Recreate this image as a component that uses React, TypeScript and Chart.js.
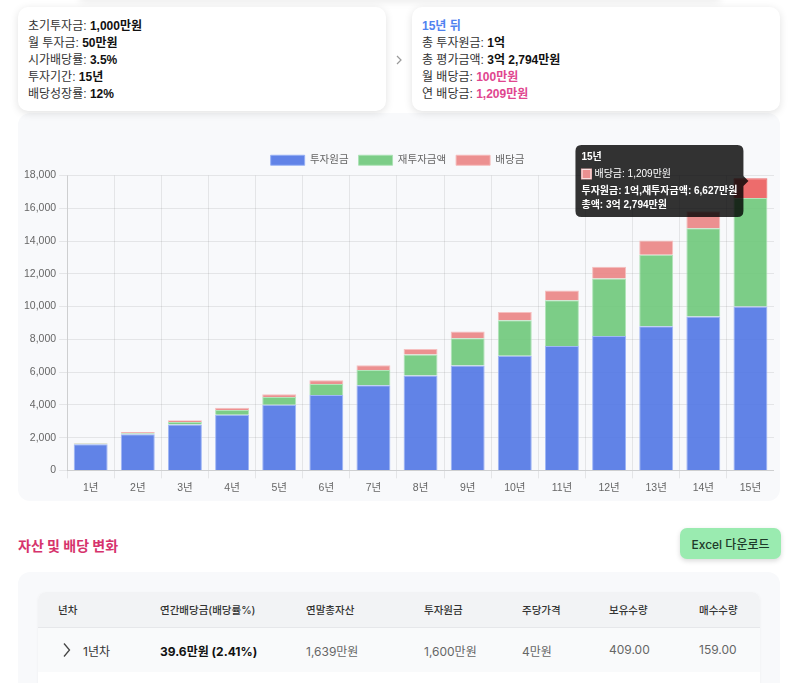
import React, { useEffect, useRef } from "react";
import { Chart, registerables } from "chart.js";

Chart.register(...registerables);

const years = ["1년", "2년", "3년", "4년", "5년", "6년", "7년", "8년", "9년", "10년", "11년", "12년", "13년", "14년", "15년"];
const principal = [1600, 2200, 2800, 3400, 4000, 4600, 5200, 5800, 6400, 7000, 7600, 8200, 8800, 9400, 10000];
const reinvest = [39, 75, 160, 280, 480, 680, 930, 1280, 1660, 2160, 2790, 3515, 4370, 5380, 6627];
const dividend = [40, 70, 105, 140, 170, 225, 285, 335, 425, 510, 595, 715, 860, 1040, 1209];
const yTicks = [0, 2000, 4000, 6000, 8000, 10000, 12000, 14000, 16000, 18000];
const finalTotal = 32794;

const FONT = "Inter, 'Noto Sans CJK KR', 'Noto Sans', sans-serif";
const CFONT = "'Liberation Sans', Arial, 'Noto Sans CJK KR', sans-serif";

function fmtMan(v: number): string {
  const eok = Math.floor(v / 10000);
  const man = v % 10000;
  if (eok > 0 && man === 0) return `${eok}억`;
  if (eok > 0) return `${eok}억 ${man.toLocaleString()}만원`;
  return `${man.toLocaleString()}만원`;
}

function ChartBox() {
  const ref = useRef<HTMLCanvasElement | null>(null);
  useEffect(() => {
    if (!ref.current) return;
    Chart.defaults.font.family = CFONT;
    const chart = new Chart(ref.current, {
      type: "bar",
      data: {
        labels: years,
        datasets: [
          {
            label: "투자원금",
            data: principal,
            backgroundColor: "rgba(80,118,228,0.9)",
            borderColor: "rgba(150,175,245,0.9)",
            borderWidth: 1,
          },
          {
            label: "재투자금액",
            data: reinvest,
            backgroundColor: "rgba(110,200,122,0.9)",
            borderColor: "rgba(170,225,178,0.9)",
            borderWidth: 1,
          },
          {
            label: "배당금",
            data: dividend,
            backgroundColor: "rgba(234,132,132,0.9)",
            borderColor: "rgba(245,185,185,0.9)",
            hoverBackgroundColor: "rgba(236,100,100,0.95)",
            hoverBorderColor: "rgba(236,100,100,0.95)",
            borderWidth: 1,
          },
        ],
      },
      options: {
        animation: false,
        responsive: true,
        maintainAspectRatio: false,
        plugins: {
          legend: {
            position: "top",
            labels: {
              boxWidth: 34,
              boxHeight: 10,
              font: { size: 10.5, family: CFONT },
              color: "#666",
            },
          },
          tooltip: {
            backgroundColor: "rgba(0,0,0,0.8)",
            yAlign: "center",
            xAlign: "right",
            titleFont: { size: 10, weight: "bold", family: CFONT },
            bodyFont: { size: 10, family: CFONT },
            footerFont: { size: 10, weight: "bold", family: CFONT },
            titleMarginBottom: 5,
            footerMarginTop: 5,
            boxWidth: 10,
            boxHeight: 10,
            boxPadding: 1,
            callbacks: {
              label: (ctx: any) => `${ctx.dataset.label}: ${Number(ctx.raw).toLocaleString()}만원`,
              footer: (items: any[]) => {
                const i = items[0].dataIndex;
                const total = i === years.length - 1 ? finalTotal : principal[i] + reinvest[i] + dividend[i];
                return [
                  `투자원금: ${fmtMan(principal[i])},재투자금액: ${fmtMan(reinvest[i])}`,
                  `총액: ${fmtMan(total)}`,
                ];
              },
            },
          },
        },
        scales: {
          x: {
            stacked: true,
            ticks: { font: { size: 10.5, family: CFONT }, color: "#666" },
            grid: { color: "rgba(0,0,0,0.08)" },
          },
          y: {
            stacked: true,
            min: 0,
            max: yTicks[yTicks.length - 1],
            ticks: {
              stepSize: yTicks[1] - yTicks[0],
              font: { size: 10.5, family: CFONT },
              color: "#666",
              callback: (v: any) => Number(v).toLocaleString(),
            },
            grid: { color: "rgba(0,0,0,0.08)" },
          },
        },
      },
    });
    const act = [{ datasetIndex: 2, index: years.length - 1 }];
    chart.setActiveElements(act);
    chart.tooltip?.setActiveElements(act, { x: 0, y: 0 });
    chart.update();
    return () => chart.destroy();
  }, []);
  return (
    <div style={{ position: "absolute", left: 21, top: 145, width: 753, height: 352 }}>
      <canvas ref={ref} />
    </div>
  );
}

const lbl: React.CSSProperties = { color: "#333" };
const val: React.CSSProperties = { fontWeight: 700, color: "#111" };
const pink: React.CSSProperties = { fontWeight: 700, color: "#e0468f" };

export default function App() {
  const card: React.CSSProperties = {
    position: "absolute",
    top: 7,
    width: 368,
    height: 104,
    background: "#fff",
    borderRadius: 10,
    boxShadow: "0 2px 8px rgba(0,0,0,0.12)",
    boxSizing: "border-box",
    padding: "11px 10px 10px 10px",
    fontSize: 12,
    lineHeight: "17px",
    fontFamily: CFONT,
  };
  const th: React.CSSProperties = { position: "absolute", top: 602, fontSize: 10.5, color: "#333", fontWeight: 500 };
  const td: React.CSSProperties = { position: "absolute", top: 642, fontSize: 12, color: "#666" };
  return (
    <div
      style={{
        position: "absolute",
        left: 0,
        top: 0,
        width: 800,
        height: 683,
        overflow: "hidden",
        background: "#fff",
        fontFamily: FONT,
      }}
    >
      <div style={{ position: "absolute", left: 80, top: -40, width: 640, height: 40, boxShadow: "0 2px 8px rgba(0,0,0,0.08)", background: "#fff" }} />
      <div style={{ position: "absolute", left: 18, top: 113, width: 762, height: 388, background: "#f8f9fb", borderRadius: 12 }} />
      <div style={{ ...card, left: 18 }}>
        <div><span style={lbl}>초기투자금: </span><span style={val}>1,000만원</span></div>
        <div><span style={lbl}>월 투자금: </span><span style={val}>50만원</span></div>
        <div><span style={lbl}>시가배당률: </span><span style={val}>3.5%</span></div>
        <div><span style={lbl}>투자기간: </span><span style={val}>15년</span></div>
        <div><span style={lbl}>배당성장률: </span><span style={val}>12%</span></div>
      </div>
      <svg style={{ position: "absolute", left: 395, top: 55 }} width="8" height="10" viewBox="0 0 8 10">
        <path d="M2 1 L6 5 L2 9" stroke="#999" strokeWidth="1.2" fill="none" />
      </svg>
      <div style={{ ...card, left: 412 }}>
        <div style={{ color: "#4f82f0", fontWeight: 700 }}>15년 뒤</div>
        <div><span style={lbl}>총 투자원금: </span><span style={val}>1억</span></div>
        <div><span style={lbl}>총 평가금액: </span><span style={val}>3억 2,794만원</span></div>
        <div><span style={lbl}>월 배당금: </span><span style={pink}>100만원</span></div>
        <div><span style={lbl}>연 배당금: </span><span style={pink}>1,209만원</span></div>
      </div>
      <ChartBox />
      <div style={{ position: "absolute", left: 18, top: 535, fontSize: 14, fontWeight: 700, color: "#d6336c" }}>자산 및 배당 변화</div>
      <div
        style={{
          position: "absolute",
          left: 680,
          top: 528,
          width: 101,
          height: 31,
          background: "#9aebb0",
          borderRadius: 7,
          boxShadow: "0 2px 5px rgba(0,0,0,0.15)",
          fontSize: 12,
          fontWeight: 500,
          color: "#1e3a2a",
          display: "flex",
          alignItems: "center",
          justifyContent: "center",
        }}
      >
        Excel 다운로드
      </div>
      <div style={{ position: "absolute", left: 18, top: 572, width: 762, height: 140, background: "#f8f9fb", borderRadius: 12 }} />
      <div style={{ position: "absolute", left: 38, top: 592, width: 722, height: 120, background: "#fff", borderRadius: 8, overflow: "hidden", boxShadow: "0 1px 3px rgba(0,0,0,0.05)" }}>
        <div style={{ height: 35, background: "#f2f3f5", borderBottom: "1px solid #e6e7ea" }} />
        <div style={{ height: 44, background: "#f9fafb" }} />
      </div>
      <div style={{ ...th, left: 58 }}>년차</div>
      <div style={{ ...th, left: 160 }}>연간배당금(배당률%)</div>
      <div style={{ ...th, left: 306 }}>연말총자산</div>
      <div style={{ ...th, left: 424 }}>투자원금</div>
      <div style={{ ...th, left: 522 }}>주당가격</div>
      <div style={{ ...th, left: 609 }}>보유수량</div>
      <div style={{ ...th, left: 699 }}>매수수량</div>
      <svg style={{ position: "absolute", left: 62, top: 642 }} width="9" height="16" viewBox="0 0 9 16">
        <path d="M2 1.5 L7.5 8 L2 14.5" stroke="#444" strokeWidth="1.3" fill="none" />
      </svg>
      <div style={{ ...td, left: 83, color: "#333" }}>1년차</div>
      <div style={{ ...td, left: 160, color: "#111", fontWeight: 700 }}>39.6만원 (2.41%)</div>
      <div style={{ ...td, left: 306 }}>1,639만원</div>
      <div style={{ ...td, left: 424 }}>1,600만원</div>
      <div style={{ ...td, left: 522 }}>4만원</div>
      <div style={{ ...td, left: 609 }}>409.00</div>
      <div style={{ ...td, left: 699 }}>159.00</div>
    </div>
  );
}
